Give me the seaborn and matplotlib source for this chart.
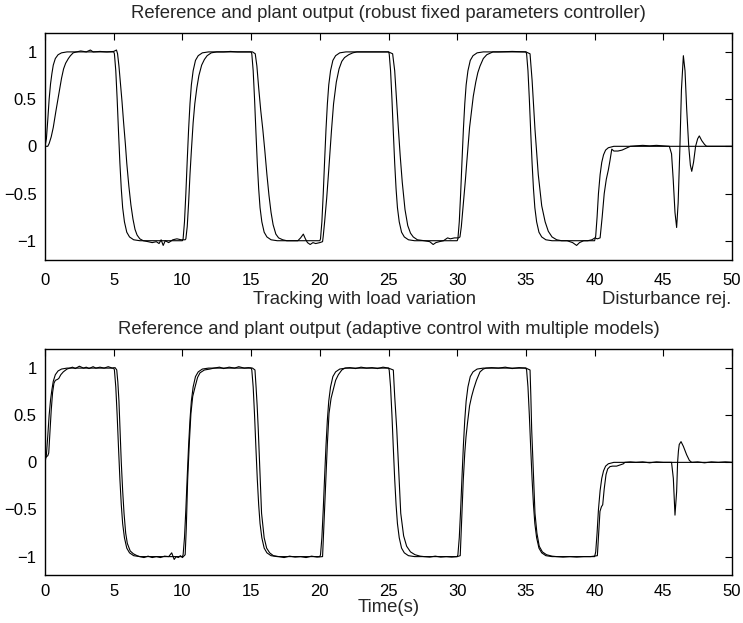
import numpy as np
import pandas as pd
import seaborn as sns
import matplotlib
matplotlib.use('Agg')
import matplotlib.pyplot as plt

# reference signal (same in both panels)
ref_t = [0, 0.1, 0.2, 0.3, 0.4, 0.5, 0.6, 0.75, 0.95, 1.2, 1.6, 5.0,
         5.05, 5.15, 5.25, 5.35, 5.45, 5.55, 5.65, 5.78, 5.95, 6.15, 6.45, 6.9, 10.0,
         10.05, 10.15, 10.25, 10.35, 10.45, 10.55, 10.65, 10.78, 10.95, 11.15, 11.45, 11.9, 15.0,
         15.05, 15.15, 15.25, 15.35, 15.45, 15.55, 15.65, 15.78, 15.95, 16.15, 16.45, 16.9, 20.0,
         20.05, 20.15, 20.25, 20.35, 20.45, 20.55, 20.65, 20.78, 20.95, 21.15, 21.45, 21.9, 25.0,
         25.05, 25.15, 25.25, 25.35, 25.45, 25.55, 25.65, 25.78, 25.95, 26.15, 26.45, 26.9, 30.0,
         30.05, 30.15, 30.25, 30.35, 30.45, 30.55, 30.65, 30.78, 30.95, 31.15, 31.45, 31.9, 35.0,
         35.05, 35.15, 35.25, 35.35, 35.45, 35.55, 35.65, 35.78, 35.95, 36.15, 36.45, 36.9, 40.0,
         40.08, 40.18, 40.28, 40.4, 40.52, 40.65, 40.8, 41.0, 41.4, 50.0]
ref_y = [0, 0.08, 0.28, 0.5, 0.66, 0.77, 0.86, 0.93, 0.97, 0.99, 1.0, 1.0,
         0.98, 0.8, 0.5, 0.15, -0.18, -0.45, -0.65, -0.8, -0.91, -0.96, -0.99, -1.0, -1.0,
         -0.98, -0.8, -0.5, -0.15, 0.18, 0.45, 0.65, 0.8, 0.91, 0.96, 0.99, 1.0, 1.0,
         0.98, 0.8, 0.5, 0.15, -0.18, -0.45, -0.65, -0.8, -0.91, -0.96, -0.99, -1.0, -1.0,
         -0.98, -0.8, -0.5, -0.15, 0.18, 0.45, 0.65, 0.8, 0.91, 0.96, 0.99, 1.0, 1.0,
         0.98, 0.8, 0.5, 0.15, -0.18, -0.45, -0.65, -0.8, -0.91, -0.96, -0.99, -1.0, -1.0,
         -0.98, -0.8, -0.5, -0.15, 0.18, 0.45, 0.65, 0.8, 0.91, 0.96, 0.99, 1.0, 1.0,
         0.98, 0.8, 0.5, 0.15, -0.18, -0.45, -0.65, -0.8, -0.91, -0.96, -0.99, -1.0, -1.0,
         -0.95, -0.75, -0.5, -0.3, -0.17, -0.09, -0.04, -0.015, 0.0, 0.0]

# plant output, robust fixed parameters controller
robust_t = [0, 0.2, 0.3, 0.45, 0.6, 0.8, 1.0, 1.2, 1.35, 1.5, 1.7, 1.85, 2.05, 2.3, 2.6, 3.0, 3.3, 3.5,
            4.0, 4.5, 5.0, 5.2, 5.28, 5.38, 5.5, 5.6, 5.72, 5.85, 5.95, 6.1, 6.25, 6.4, 6.55, 6.7, 6.9,
            7.15, 7.5, 7.8, 8.1, 8.3, 8.45, 8.6, 8.75, 9.0, 9.3, 9.6, 9.9, 10.2,
            10.25, 10.35, 10.45, 10.55, 10.65, 10.78, 10.9, 11.05, 11.2, 11.4, 11.6, 11.8, 12.1, 12.5,
            13.0, 13.5, 14.0, 14.5, 15.1, 15.3, 15.42, 15.55, 15.7, 15.85, 16.0, 16.15, 16.3, 16.45,
            16.6, 16.8, 17.0, 17.3, 17.6, 18.0, 18.4, 18.6, 18.8, 18.95, 19.1, 19.3, 19.5, 19.7, 20.0,
            20.2, 20.25, 20.35, 20.5, 20.65, 20.85, 21.0, 21.2, 21.4, 21.6, 21.8, 22.1, 22.4, 22.7,
            23.0, 24.0, 25.0, 25.3, 25.45, 25.6, 25.72, 25.85, 26.0, 26.2, 26.4, 26.6, 26.8, 27.1,
            27.6, 28.0, 28.25, 28.45, 28.7, 29.0, 29.3, 29.5, 29.8, 30.1, 30.2, 30.3, 30.45, 30.6,
            30.69, 30.9, 31.17, 31.35, 31.5, 31.66, 31.9, 32.15, 32.6, 33.0, 34.0, 35.0, 35.3, 35.45,
            35.66, 35.9, 36.15, 36.4, 36.63, 36.9, 37.24, 37.6, 38.0, 38.4, 38.69, 38.9, 39.2, 39.5,
            39.8, 40.03, 40.2, 40.4, 40.55, 40.7, 40.85, 41.0, 41.12, 41.25, 41.4, 41.7, 42.0, 42.3,
            42.6, 43.0, 43.5, 44.0, 44.5, 45.0, 45.44, 45.6, 45.72, 45.85, 45.97, 46.08, 46.2, 46.32,
            46.46, 46.58, 46.7, 46.85, 46.97, 47.07, 47.2, 47.35, 47.5, 47.62, 47.8, 48.0, 48.15, 50.0]
robust_y = [0, 0.0, 0.03, 0.1, 0.2, 0.38, 0.55, 0.72, 0.82, 0.88, 0.93, 0.96, 0.99, 1.0, 1.01, 1.0, 1.02, 1.0,
            1.005, 1.0, 1.005, 1.02, 0.98, 0.85, 0.65, 0.48, 0.25, 0.02, -0.18, -0.42, -0.62, -0.77, -0.88, -0.94, -0.98,
            -1.0, -1.01, -1.02, -1.01, -1.03, -0.99, -1.05, -1.0, -1.02, -0.99, -0.98, -0.99, -0.99,
            -0.98, -0.85, -0.6, -0.3, -0.05, 0.25, 0.45, 0.62, 0.75, 0.86, 0.92, 0.96, 0.99, 1.0,
            1.0, 1.005, 1.0, 1.0, 1.0, 0.98, 0.85, 0.62, 0.38, 0.18, -0.05, -0.3, -0.52, -0.7,
            -0.83, -0.93, -0.97, -0.99, -1.0, -1.0, -1.0, -0.97, -0.93, -0.98, -1.02, -1.04, -1.02, -1.03, -1.02,
            -1.01, -0.95, -0.8, -0.55, -0.25, 0.17, 0.45, 0.68, 0.82, 0.9, 0.94, 0.97, 0.99, 1.0,
            1.0, 1.0, 1.0, 0.98, 0.8, 0.45, 0.18, -0.1, -0.38, -0.67, -0.84, -0.92, -0.96, -0.99,
            -1.0, -1.01, -1.04, -1.02, -1.01, -1.0, -0.97, -0.98, -0.97, -0.97, -0.96, -0.85, -0.6, -0.35,
            -0.18, 0.2, 0.53, 0.68, 0.78, 0.85, 0.93, 0.97, 1.0, 1.0, 1.005, 1.0, 0.98, 0.7,
            0.18, -0.3, -0.63, -0.8, -0.9, -0.96, -0.99, -1.0, -1.0, -1.02, -1.05, -1.02, -1.0, -1.0,
            -0.99, -0.97, -0.98, -0.97, -0.75, -0.5, -0.35, -0.25, -0.15, -0.03, -0.05, -0.05, -0.04, -0.02,
            0.0, 0.005, 0.01, 0.005, 0.01, 0.005, 0.0, -0.08, -0.35, -0.7, -0.86, -0.6, -0.05, 0.6,
            0.96, 0.8, 0.4, 0.0, -0.2, -0.265, -0.17, 0.0, 0.08, 0.11, 0.06, 0.02, 0.0, 0.0]

# plant output, adaptive control with multiple models
adaptive_t = [0, 0.1, 0.2, 0.27, 0.35, 0.45, 0.55, 0.65, 0.75, 0.9, 1.0, 1.15, 1.33, 1.6, 1.8, 2.0, 2.2,
              2.5, 2.8, 3.0, 3.2, 3.5, 3.7, 4.0, 4.3, 4.6, 4.9, 5.1, 5.22, 5.3, 5.38, 5.46, 5.55, 5.65,
              5.75, 5.87, 5.99, 6.2, 6.43, 6.7, 6.9, 7.2, 7.5, 7.8, 8.1, 8.4, 8.7, 9.0, 9.22, 9.3, 9.4,
              9.55, 9.7, 9.85, 10.0, 10.2, 10.28, 10.38, 10.5, 10.62, 10.75, 10.92, 11.1, 11.28, 11.6,
              12.0, 12.3, 12.7, 13.0, 13.4, 13.8, 14.1, 14.5, 14.8, 15.1, 15.28, 15.36, 15.44, 15.52,
              15.64, 15.76, 15.95, 16.13, 16.35, 16.62, 17.0, 17.4, 17.8, 18.2, 18.6, 19.0, 19.4, 19.8,
              20.2, 20.3, 20.43, 20.55, 20.67, 20.82, 20.98, 21.15, 21.35, 21.6, 21.83, 22.2, 22.6, 23.0,
              23.4, 23.8, 24.2, 24.6, 25.0, 25.35, 25.45, 25.6, 25.75, 25.89, 26.1, 26.32, 26.6, 26.93,
              27.3, 27.6, 28.0, 28.4, 28.8, 29.2, 29.6, 30.0, 30.22, 30.3, 30.44, 30.55, 30.64, 30.75,
              30.9, 31.05, 31.2, 31.4, 31.66, 31.9, 32.1, 32.5, 33.0, 33.5, 34.0, 34.5, 35.0, 35.3,
              35.36, 35.42, 35.54, 35.66, 35.8, 35.97, 36.2, 36.5, 36.9, 37.24, 37.7, 38.2, 38.7, 39.2,
              39.7, 40.2, 40.3, 40.39, 40.5, 40.59, 40.7, 40.83, 40.95, 41.12, 41.3, 41.6, 41.8, 42.1,
              42.2, 42.6, 43.0, 43.5, 44.0, 44.5, 45.0, 45.6, 45.73, 45.8, 45.85, 45.92, 45.97, 46.04,
              46.1, 46.16, 46.29, 46.46, 46.7, 46.9, 47.07, 47.5, 48.0, 48.5, 49.0, 49.5, 50.0]
adaptive_y = [0.04, 0.06, 0.07, 0.1, 0.3, 0.55, 0.74, 0.84, 0.87, 0.88, 0.89, 0.93, 0.96, 0.99, 1.0, 1.01, 0.995,
              1.02, 1.0, 1.01, 0.995, 1.015, 1.0, 1.01, 1.0, 1.015, 1.0, 1.005, 0.98, 0.85, 0.65, 0.35, 0.0, -0.3,
              -0.54, -0.75, -0.86, -0.94, -0.97, -0.99, -1.0, -1.01, -0.995, -1.01, -1.0, -1.01, -0.995, -1.0, -0.96, -0.99, -1.03,
              -1.0, -1.01, -0.99, -1.01, -0.98, -0.7, -0.19, 0.2, 0.52, 0.7, 0.8, 0.9, 0.95, 0.98,
              0.99, 1.0, 1.01, 0.995, 1.01, 1.0, 1.015, 1.0, 1.005, 1.0, 0.98, 0.8, 0.6, 0.35,
              -0.1, -0.54, -0.8, -0.91, -0.96, -0.99, -1.0, -1.01, -0.995, -1.005, -1.0, -1.01, -0.995, -1.005,
              -1.0, -0.65, -0.19, 0.2, 0.52, 0.68, 0.77, 0.87, 0.93, 0.98, 1.0, 1.005, 0.995, 1.01,
              1.0, 1.005, 0.995, 1.01, 1.0, 0.98, 0.7, 0.35, -0.1, -0.54, -0.78, -0.89, -0.95, -0.98,
              -0.995, -1.0, -1.005, -0.995, -1.005, -1.0, -1.005, -1.0, -0.99, -0.7, -0.19, 0.1, 0.27, 0.42,
              0.6, 0.7, 0.78, 0.87, 0.96, 0.99, 1.0, 1.005, 1.0, 1.01, 0.995, 1.005, 1.0, 0.98,
              0.7, 0.35, -0.1, -0.54, -0.75, -0.89, -0.95, -0.98, -0.995, -1.0, -1.005, -1.0, -1.005, -1.0,
              -1.0, -0.99, -0.75, -0.52, -0.47, -0.45, -0.28, -0.13, -0.07, -0.045, -0.04, -0.04, -0.03, -0.015,
              0.0, 0.005, 0.0, 0.005, -0.005, 0.005, 0.0, 0.0, -0.17, -0.4, -0.56, -0.42, -0.31, 0.0,
              0.12, 0.19, 0.22, 0.17, 0.08, 0.02, 0.0, 0.005, -0.005, 0.005, 0.0, 0.005, 0.0]

x_ticks = [0, 5, 10, 15, 20, 25, 30, 35, 40, 45, 50]
y_ticks = [-1, -0.5, 0, 0.5, 1]

sns.set_style('white')
plt.rcParams['font.family'] = ['Liberation Sans', 'DejaVu Sans']
plt.rcParams['xtick.direction'] = 'in'
plt.rcParams['ytick.direction'] = 'in'
plt.rcParams['xtick.top'] = True
plt.rcParams['ytick.right'] = True
plt.rcParams['axes.edgecolor'] = 'black'
plt.rcParams['axes.linewidth'] = 1.0

fig = plt.figure(figsize=(7.43, 6.23), dpi=100)
ax1 = fig.add_axes([0.0606, 0.5833, 0.9246, 0.3637])
ax2 = fig.add_axes([0.0606, 0.0763, 0.9246, 0.3631])

panels = [(ax1, robust_t, robust_y, 'Reference and plant output (robust fixed parameters controller)', 10),
          (ax2, adaptive_t, adaptive_y, 'Reference and plant output (adaptive control with multiple models)', 6)]

for ax, out_t, out_y, title, xpad in panels:
    sns.lineplot(x=ref_t, y=ref_y, ax=ax, color='black', linewidth=0.8, estimator=None, sort=False)
    sns.lineplot(x=out_t, y=out_y, ax=ax, color='black', linewidth=0.8, estimator=None, sort=False)
    ax.set_xlim(0, 50)
    ax.set_ylim(-1.2, 1.2)
    ax.set_xticks(x_ticks)
    ax.set_yticks(y_ticks)
    ax.set_yticklabels(['\u22121', '\u22120.5', '0', '0.5', '1'])
    ax.tick_params(which='both', length=5, width=0.8, labelsize=12, colors='black')
    ax.tick_params(axis='x', pad=xpad)
    ax.tick_params(axis='y', pad=6)
    ax.set_title(title, fontsize=13.3, pad=11)
    for s in ax.spines.values():
        s.set_visible(True)
        s.set_color('black')

ax2.set_xlabel('Time(s)', fontsize=13.3, labelpad=0)
fig.text(0.49, 1 - 300 / 623, 'Tracking with load variation', ha='center', va='center', fontsize=13.3)
fig.text(0.984, 1 - 300 / 623, 'Disturbance rej.', ha='right', va='center', fontsize=13.3)

fig.savefig('out.png', dpi=100, facecolor='white')
